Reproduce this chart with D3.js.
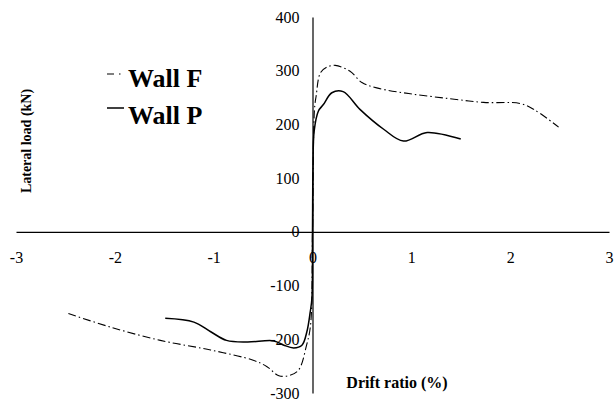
<!DOCTYPE html>
<html>
<head>
<meta charset="utf-8">
<script src="https://cdn.jsdelivr.net/npm/d3@7"></script>
<style>
  body { margin: 0; background: #fff; }
  svg text { font-family: "Liberation Serif", "Times New Roman", serif; fill: #000; }
</style>
</head>
<body>
<div id="chart"></div>
<script>
// drift ratio (%) and lateral load (kN)
const wallFDrift = [-2.47, -2.05, -1.54, -1.03, -0.60, -0.46, -0.34, -0.23, -0.14, -0.06, -0.02, 0, 0.02, 0.037, 0.08, 0.15, 0.23, 0.38, 0.50, 0.65, 0.99, 1.39, 1.73, 2.10, 2.24, 2.49];
const wallFLoad  = [-152, -177, -202, -220, -239, -251, -268, -267, -257, -211, -174, 0, 228, 253, 296, 307, 310, 299, 278, 268, 257, 248, 241, 239, 228, 195];

const wallPDrift = [-1.49, -1.20, -1.03, -0.87, -0.66, -0.39, -0.29, -0.19, -0.107, -0.057, -0.023, -0.006, 0, 0.005, 0.017, 0.06, 0.11, 0.196, 0.31, 0.48, 0.72, 0.92, 1.16, 1.50];
const wallPLoad  = [-161, -168, -186, -202, -205, -203, -211, -216, -211, -186, -149, -124, 0, 120, 188, 225, 237, 259, 261, 228, 191, 169, 185, 173];

const xTicks = [-3, -2, -1, 0, 1, 2, 3];
const yTicks = [-300, -200, -100, 0, 100, 200, 300, 400];

const seriesNames = ["Wall F", "Wall P"];

let width = 614, height = 401;

let svg = d3.select("#chart").append("svg")
  .attr("width", width)
  .attr("height", height);

let x = d3.scaleLinear().domain([-3, 3]).range([16, 609]);
let y = d3.scaleLinear().domain([-300, 400]).range([393, 17]);

/* axes cross at the origin, plain hyphen for negatives like the original */
let xAxis = svg.append("g")
  .attr("transform", "translate(0," + y(0) + ")")
  .call(d3.axisBottom(x).tickValues(xTicks).tickSize(0).tickSizeOuter(0).tickPadding(20).tickFormat(d => String(d)));

let yAxis = svg.append("g")
  .attr("transform", "translate(" + x(0) + ",0)")
  .call(d3.axisLeft(y).tickValues(yTicks).tickSize(0).tickSizeOuter(0).tickPadding(13).tickFormat(d => String(d)));

svg.selectAll(".domain").attr("stroke", "#000").attr("stroke-width", 1.2);
svg.selectAll(".tick text")
  .style("font-family", "'Liberation Serif', 'Times New Roman', serif")
  .style("font-size", "16px")
  .attr("fill", "#000");
yAxis.selectAll(".tick text").attr("dy", "0.32em");

/* series */
let line = d3.line()
  .x(d => x(d[0]))
  .y(d => y(d[1]))
  .curve(d3.curveCatmullRom.alpha(0.5));

let wallF = wallFDrift.map((d, i) => [d, wallFLoad[i]]);
let wallP = wallPDrift.map((d, i) => [d, wallPLoad[i]]);

svg.append("path")
  .datum(wallF)
  .attr("fill", "none")
  .attr("stroke", "#000")
  .attr("stroke-width", 1.1)
  .attr("stroke-dasharray", "8,3,1.5,3")
  .attr("d", line);

svg.append("path")
  .datum(wallP)
  .attr("fill", "none")
  .attr("stroke", "#000")
  .attr("stroke-width", 1.5)
  .attr("d", line);

/* axis titles */
svg.append("text")
  .attr("transform", "translate(31,141) rotate(-90)")
  .attr("text-anchor", "middle")
  .style("font-size", "14px")
  .style("font-weight", "bold")
  .text("Lateral load (kN)");

svg.append("text")
  .attr("x", 397)
  .attr("y", 388)
  .attr("text-anchor", "middle")
  .style("font-size", "16px")
  .style("font-weight", "bold")
  .text("Drift ratio (%)");

/* legend */
let legend = svg.selectAll(".legend")
  .data(seriesNames)
  .enter().append("g")
  .attr("class", "legend")
  .attr("transform", (d, i) => "translate(107," + (86.5 + i * 37.5) + ")");

legend.append("line")
  .attr("x1", 0)
  .attr("x2", (d, i) => i == 0 ? 15 : 17)
  .attr("y1", (d, i) => i == 0 ? -12.5 : -16)
  .attr("y2", (d, i) => i == 0 ? -12.5 : -16)
  .attr("stroke", "#000")
  .attr("stroke-width", (d, i) => i == 0 ? 1.1 : 1.5)
  .attr("stroke-dasharray", (d, i) => i == 0 ? "7,5,1.5,3" : null);

legend.append("text")
  .attr("x", 21)
  .attr("y", 0)
  .style("font-size", "26px")
  .style("font-weight", "bold")
  .text(d => d);
</script>
</body>
</html>
